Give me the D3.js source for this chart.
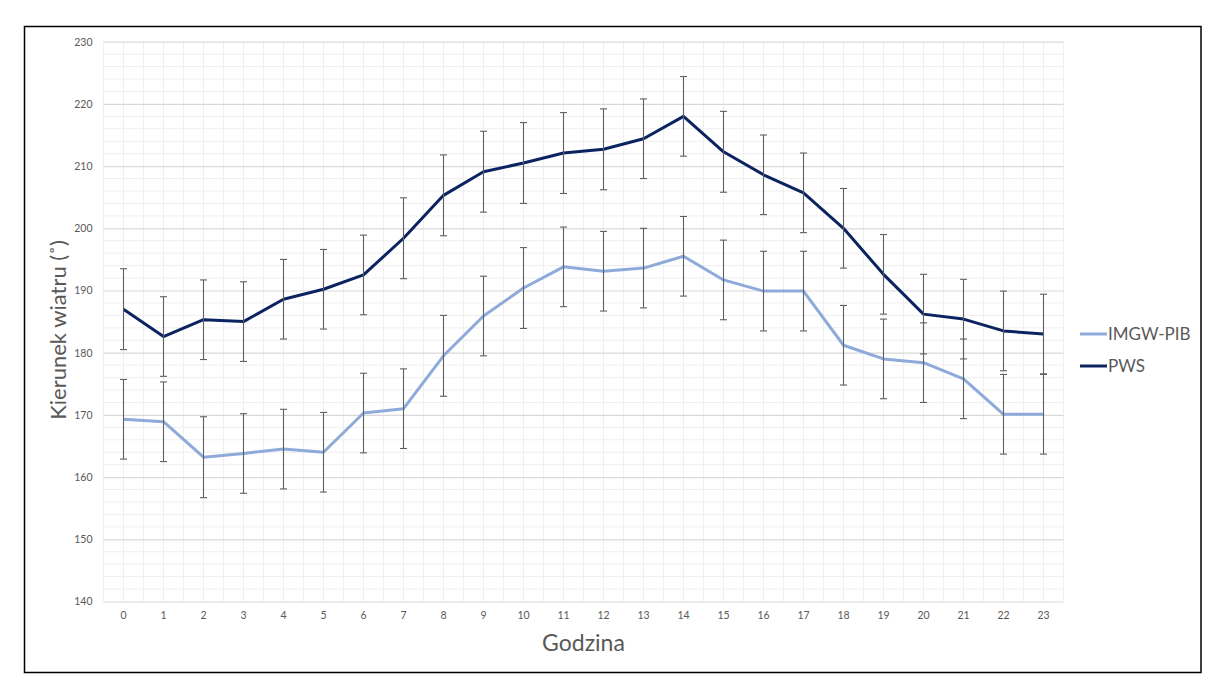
<!DOCTYPE html>
<html>
<head>
<meta charset="utf-8">
<script src="https://cdn.jsdelivr.net/npm/d3@7"></script>
<style>
  html, body { margin: 0; padding: 0; background: #fff; }
  svg { display: block; }
  text { font-family: Lato, "Open Sans", sans-serif; fill: #595959; }
</style>
</head>
<body>
<svg id="chart" width="1215" height="682"></svg>
<script>
// Hourly mean wind direction with error bars, two data sources
const hours = ["0","1","2","3","4","5","6","7","8","9","10","11","12","13","14","15","16","17","18","19","20","21","22","23"];
const imgwValues = [169.3, 168.9, 163.2, 163.8, 164.5, 164.0, 170.3, 171.0, 179.5, 185.9, 190.4, 193.8, 193.1, 193.6, 195.5, 191.7, 189.9, 189.9, 181.2, 179.0, 178.4, 175.8, 170.1, 170.1];
const pwsValues  = [187.0, 182.6, 185.3, 185.0, 188.6, 190.2, 192.5, 198.4, 205.3, 209.1, 210.5, 212.1, 212.7, 214.4, 218.0, 212.3, 208.6, 205.7, 200.0, 192.6, 186.2, 185.4, 183.5, 183.0];
const imgwErrors = [6.4, 6.4, 6.5, 6.4, 6.4, 6.4, 6.4, 6.4, 6.5, 6.4, 6.5, 6.4, 6.4, 6.4, 6.4, 6.4, 6.4, 6.4, 6.4, 6.4, 6.4, 6.4, 6.4, 6.4];
const pwsErrors  = [6.5, 6.4, 6.4, 6.4, 6.4, 6.4, 6.4, 6.5, 6.5, 6.5, 6.5, 6.5, 6.5, 6.4, 6.4, 6.5, 6.4, 6.4, 6.4, 6.4, 6.4, 6.4, 6.4, 6.4];
const yTicks = [140, 150, 160, 170, 180, 190, 200, 210, 220, 230];

const series = [
  { name: "IMGW-PIB", values: imgwValues, errors: imgwErrors, color: "#8eaadb" },
  { name: "PWS",      values: pwsValues,  errors: pwsErrors,  color: "#0b2461" }
];

const svg = d3.select("#chart");

// outer frame
svg.append("rect")
  .attr("x", 24.5).attr("y", 26.5)
  .attr("width", 1176.5).attr("height", 646)
  .attr("fill", "none").attr("stroke", "#000").attr("stroke-width", 1.5);

const x = d3.scaleBand().domain(hours).range([103.5, 1063.5]).padding(0);
const y = d3.scaleLinear().domain([140, 230]).range([601.5, 41.7]);
const cx = h => x(h) + x.bandwidth() / 2;

const grid = svg.append("g");

// minor vertical gridlines: band edges and band centres
const vLines = [];
hours.forEach(h => { vLines.push(x(h)); vLines.push(cx(h)); });
vLines.push(x.range()[1]);
grid.selectAll("line.vminor").data(vLines).join("line")
  .attr("x1", d => d).attr("x2", d => d)
  .attr("y1", y(230)).attr("y2", y(140))
  .attr("stroke", "#efefef").attr("stroke-width", 1);

// minor horizontal gridlines every 2 units
grid.selectAll("line.hminor").data(d3.range(142, 230, 2).filter(v => v % 10 !== 0)).join("line")
  .attr("x1", x.range()[0]).attr("x2", x.range()[1])
  .attr("y1", d => y(d)).attr("y2", d => y(d))
  .attr("stroke", "#efefef").attr("stroke-width", 1);

// major horizontal gridlines via the y axis
const yAxis = svg.append("g")
  .attr("transform", `translate(${x.range()[0]},0)`)
  .call(d3.axisLeft(y).tickValues(yTicks).tickSize(-(x.range()[1] - x.range()[0])).tickPadding(11));
yAxis.select(".domain").remove();
yAxis.selectAll(".tick line").attr("stroke", "#d9d9d9").attr("stroke-width", 1.2);
yAxis.selectAll(".tick text")
  .style("font-family", "Lato, 'Open Sans', sans-serif")
  .attr("font-size", 10.5).attr("fill", "#595959");

// x axis labels
const xAxis = svg.append("g")
  .attr("transform", `translate(0,${y(140)})`)
  .call(d3.axisBottom(x).tickSize(0).tickPadding(10));
xAxis.select(".domain").remove();
xAxis.selectAll(".tick text")
  .style("font-family", "Lato, 'Open Sans', sans-serif")
  .attr("font-size", 10.5).attr("fill", "#595959");

// series lines
const line = d3.line().x((d, i) => cx(hours[i])).y(d => y(d));
series.forEach(s => {
  svg.append("path")
    .datum(s.values)
    .attr("d", line)
    .attr("fill", "none")
    .attr("stroke", s.color)
    .attr("stroke-width", 3)
    .attr("stroke-linejoin", "round");
});

// error bars
series.forEach(s => {
  const g = svg.append("g").attr("stroke", "#5f5f5f").attr("stroke-width", 1.1);
  s.values.forEach((v, i) => {
    const px = cx(hours[i]);
    const top = y(v + s.errors[i]);
    const bot = y(v - s.errors[i]);
    g.append("line").attr("x1", px).attr("x2", px).attr("y1", top).attr("y2", bot);
    g.append("line").attr("x1", px - 3.5).attr("x2", px + 3.5).attr("y1", top).attr("y2", top);
    g.append("line").attr("x1", px - 3.5).attr("x2", px + 3.5).attr("y1", bot).attr("y2", bot);
  });
});

// axis titles
svg.append("text")
  .attr("transform", "translate(66,330) rotate(-90)")
  .attr("text-anchor", "middle")
  .attr("font-size", 22)
  .text("Kierunek wiatru (˚)");

svg.append("text")
  .attr("x", cx("11") + 20).attr("y", 651)
  .attr("text-anchor", "middle")
  .attr("font-size", 23)
  .text("Godzina");

// legend
const legend = svg.append("g");
series.forEach((s, i) => {
  const ly = 334 + i * 32;
  legend.append("line")
    .attr("x1", 1080).attr("x2", 1107)
    .attr("y1", ly).attr("y2", ly)
    .attr("stroke", s.color).attr("stroke-width", 3);
  legend.append("text")
    .attr("x", 1108).attr("y", ly + 6)
    .attr("font-size", 17)
    .text(s.name);
});
</script>
</body>
</html>
